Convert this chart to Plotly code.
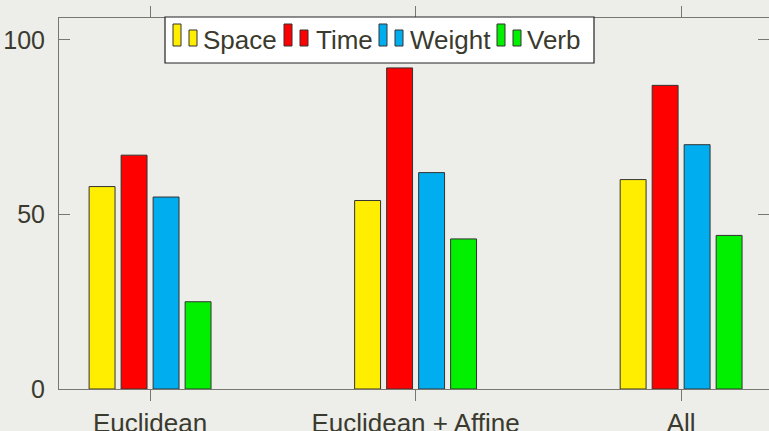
import plotly.graph_objects as go

categories = ["Euclidean", "Euclidean + Affine", "All"]
series_names = ["Space", "Time", "Weight", "Verb"]
space = [58, 54, 60]
time_ = [67, 92, 87]
weight = [55, 62, 70]
verb = [25, 43, 44]
colors = ["#FFEE00", "#FF0000", "#00AEEF", "#00F000"]
y_ticks = [0, 50, 100]

BG = "#EDEDE9"
TXT = "#3A3A2E"
AX = "#77776f"

W, H = 769, 431
L, R, T, B = 59, 769, 18, 389


def px(x):
    return (x - L) / (R - L)


def py(y):
    return (B - y) / (B - T)


fig = go.Figure()
for name, vals, col in zip(series_names, [space, time_, weight, verb], colors):
    fig.add_trace(go.Bar(
        x=categories, y=vals, name=name,
        marker=dict(color=col, line=dict(color="#333333", width=1)),
    ))

# legend drawn as shapes + text (two swatches per entry, as in the reference)
shapes = [dict(type="rect", xref="paper", yref="paper",
               x0=px(165), x1=px(594), y0=py(63), y1=py(17),
               fillcolor="white", line=dict(color="#222222", width=1.2), layer="above")]
annotations = []
leg_icon_x = [173, 284, 379, 497]
leg_text_x = [203, 316, 410, 527]
for name, col, ix, tx in zip(series_names, colors, leg_icon_x, leg_text_x):
    shapes.append(dict(type="rect", xref="paper", yref="paper",
                       x0=px(ix), x1=px(ix + 8), y0=py(46), y1=py(24),
                       fillcolor=col, line=dict(color="#333333", width=1), layer="above"))
    shapes.append(dict(type="rect", xref="paper", yref="paper",
                       x0=px(ix + 16), x1=px(ix + 24), y0=py(46), y1=py(30),
                       fillcolor=col, line=dict(color="#333333", width=1), layer="above"))
    annotations.append(dict(text=name, xref="paper", yref="paper",
                            x=px(tx - 2), y=py(40), xanchor="left", yanchor="middle",
                            showarrow=False, font=dict(size=26, color=TXT)))

fig.update_layout(
    width=W, height=H,
    margin=dict(l=L, r=W - R, t=T, b=H - B, autoexpand=False),
    paper_bgcolor=BG, plot_bgcolor=BG,
    font=dict(family="Liberation Sans, Arial, sans-serif", size=25, color=TXT),
    barmode="group", bargap=0.518, bargroupgap=0.19,
    showlegend=False,
    shapes=shapes, annotations=annotations,
)
fig.update_xaxes(
    range=[-0.343, 2.331], showline=True, linecolor=AX, linewidth=1,
    mirror="ticks", ticks="outside", ticklen=11, tickcolor=AX,
    showgrid=False, zeroline=False, tickfont=dict(size=26, color=TXT),
    automargin=False,
)
fig.update_yaxes(
    range=[0, 106.3], tickvals=y_ticks, showline=True, linecolor=AX, linewidth=1,
    mirror="ticks", ticks="inside", ticklen=11, tickcolor=AX,
    showgrid=False, zeroline=False, tickfont=dict(size=25, color=TXT),
    automargin=False, ticklabelstandoff=8,
)
fig.write_html(
    "out.html",
    config={"displayModeBar": False},
    post_script="document.body.style.margin='0';document.body.style.overflow='hidden';"
                "document.body.style.background='" + BG + "';",
)
